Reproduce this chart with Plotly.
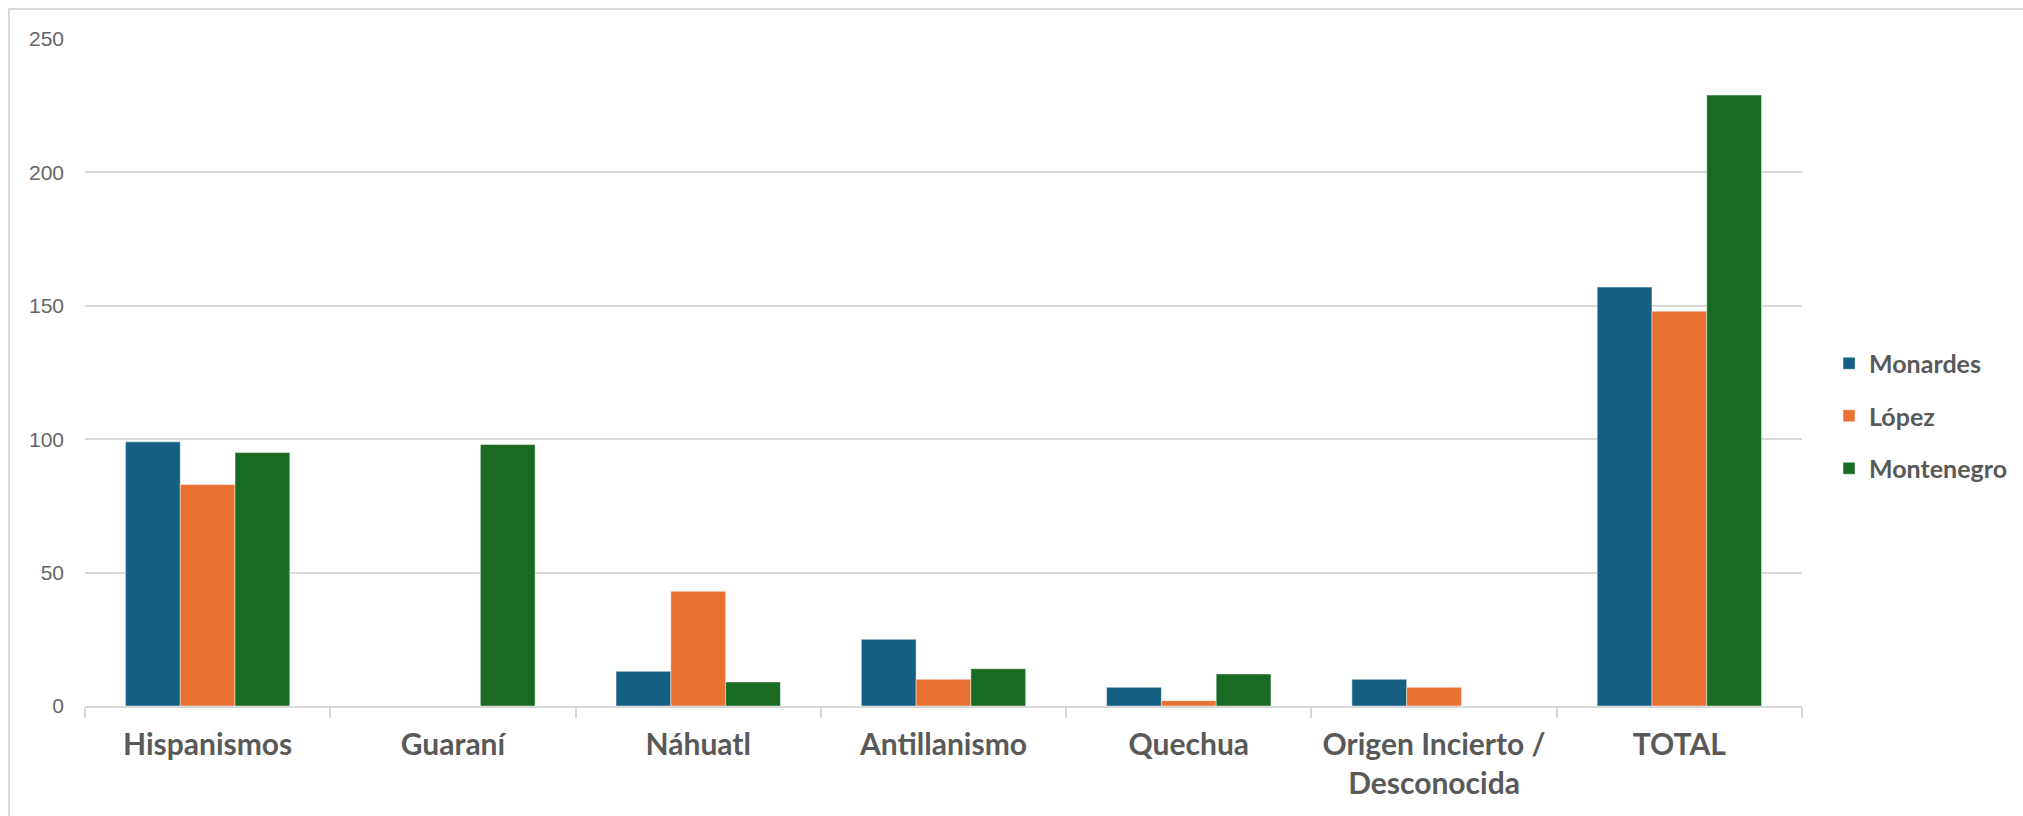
import plotly.graph_objects as go

categories = ["Hispanismos", "Guaraní", "Náhuatl", "Antillanismo", "Quechua",
              "Origen Incierto /<br>Desconocida", "TOTAL"]
monardes = [99, 0, 13, 25, 7, 10, 157]
lopez = [83, 0, 43, 10, 2, 7, 148]
montenegro = [95, 98, 9, 14, 12, 0, 229]
series_names = ["Monardes", "López", "Montenegro"]
colors = ["#156082", "#E97132", "#196B24"]
y_ticks = [0, 50, 100, 150, 200, 250]

fig = go.Figure()
for i, (name, vals) in enumerate(zip(series_names, [monardes, lopez, montenegro])):
    fig.add_trace(go.Bar(
        name=name, x=categories, y=vals,
        marker=dict(color=colors[i], line=dict(width=1, color="rgba(255,255,255,0.45)")),
        legendgroup=name,
    ))

W, H = 2023, 816
L, R, T, B = 85, 221, 39, 110
pw, ph = W - L - R, H - T - B

fig.update_layout(
    width=W, height=H,
    margin=dict(l=L, r=R, t=T, b=B, autoexpand=False),
    paper_bgcolor="white", plot_bgcolor="white",
    barmode="group", bargap=0.33, bargroupgap=0,
    showlegend=True,
    legend=dict(
        x=(1829 - L) / pw, xanchor="left",
        y=1 - (416 - T) / ph, yanchor="middle",
        font=dict(family="Lato", size=25, color="#595959", weight="bold"),
        tracegroupgap=17, bgcolor="rgba(0,0,0,0)",
    ),
    xaxis=dict(
        showgrid=False, showline=True, linecolor="#D9D9D9", linewidth=2,
        ticks="outside", tickson="boundaries", ticklen=10, tickcolor="#D9D9D9", tickwidth=2,
        tickfont=dict(family="Lato", size=30, color="#595959", weight="bold"),
        tickangle=0, ticklabelstandoff=11,
    ),
    yaxis=dict(
        range=[0, 250], tickvals=y_ticks, showgrid=True, gridcolor="#D9D9D9", gridwidth=2,
        zeroline=False, showline=False, ticks="",
        tickfont=dict(family="Liberation Sans", size=21, color="#666666"),
        ticklabelstandoff=20,
    ),
    shapes=[dict(
        type="rect", xref="paper", yref="paper", layer="below",
        x0=(9 - L) / pw, x1=(W + 20 - L) / pw,
        y0=-(H + 20 - T - ph) / ph, y1=1 + (T - 9) / ph,
        line=dict(color="#D9D9D9", width=2), fillcolor="rgba(0,0,0,0)",
    )],
)

fig.write_html("out.html", config={"displayModeBar": False},
               post_script="document.body.style.margin='0';")
